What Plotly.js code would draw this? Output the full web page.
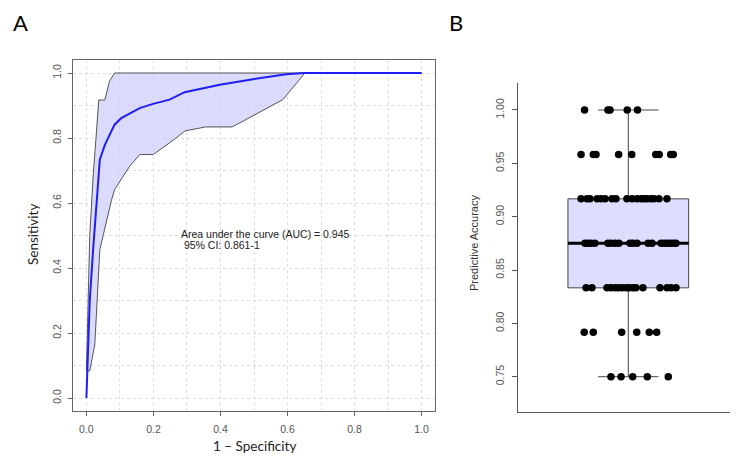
<!DOCTYPE html>
<html>
<head>
<meta charset="utf-8">
<script src="https://cdn.plot.ly/plotly-3.0.1.min.js"></script>
<style>html,body{margin:0;padding:0;background:#fff;}#chart{width:743px;height:462px;}</style>
</head>
<body>
<div id="chart"></div>
<script>
// ---------- Panel A: ROC curve ----------
const rocFPR = [0, 0.003, 0.01, 0.02, 0.03, 0.04, 0.055, 0.084, 0.104, 0.159, 0.199, 0.248, 0.293, 0.398, 0.497, 0.596, 0.65, 1.0];
const rocTPR = [0, 0.097, 0.30, 0.456, 0.61, 0.733, 0.779, 0.841, 0.861, 0.892, 0.905, 0.918, 0.941, 0.964, 0.981, 0.996, 1.0, 1.0];

const ciUpperFPR = [0, 0.01, 0.02, 0.03, 0.037, 0.055, 0.069, 0.084, 1.0];
const ciUpperTPR = [0.083, 0.50, 0.68, 0.84, 0.917, 0.917, 0.975, 1.0, 1.0];

const ciLowerFPR = [0, 0.01, 0.025, 0.04, 0.075, 0.084, 0.129, 0.159, 0.199, 0.248, 0.295, 0.355, 0.435, 0.586, 0.652, 1.0];
const ciLowerTPR = [0.083, 0.083, 0.164, 0.456, 0.61, 0.641, 0.713, 0.749, 0.749, 0.785, 0.822, 0.834, 0.834, 0.918, 1.0, 1.0];

const aucText = "Area under the curve (AUC) = 0.945";
const ciText = "\u00a095% CI: 0.861-1";
const rocTicks = [0, 0.2, 0.4, 0.6, 0.8, 1.0];
const rocTickLabels = ["0.0", "0.2", "0.4", "0.6", "0.8", "1.0"];

// ---------- Panel B: predictive accuracy (strip + box) ----------
const accLevels = [1.000, 0.9583, 0.9167, 0.875, 0.8333, 0.7917, 0.750];
const jitterRows = [
  [-0.29, -0.135, -0.121, -0.007, 0.061],
  [-0.313, -0.232, -0.214, -0.064, 0.023, 0.182, 0.205, 0.281, 0.298],
  [-0.313, -0.274, -0.254, -0.207, -0.181, -0.154, -0.108, -0.082, -0.009, 0.025, 0.058, 0.084, 0.104, 0.124, 0.150, 0.170, 0.203, 0.256],
  [-0.287, -0.267, -0.247, -0.221, -0.135, -0.115, -0.088, -0.062, 0.011, 0.031, 0.058, 0.131, 0.157, 0.217, 0.237, 0.256, 0.276, 0.296, 0.316],
  [-0.280, -0.241, -0.141, -0.115, -0.088, -0.068, -0.042, -0.015, 0.005, 0.031, 0.051, 0.097, 0.210, 0.256, 0.283, 0.316],
  [-0.292, -0.232, -0.044, 0.056, 0.139, 0.188],
  [-0.115, -0.048, 0.029, 0.126, 0.265]
];
const accTicks = [0.75, 0.80, 0.85, 0.90, 0.95, 1.00];
const accTickLabels = ["0.75", "0.80", "0.85", "0.90", "0.95", "1.00"];

// ---------- build ----------
const BOX_POS = 1, BOX_W = 0.8;
const ptsX = [], ptsY = [];
accLevels.forEach((v, i) => jitterRows[i].forEach(j => { ptsX.push(BOX_POS + j); ptsY.push(v); }));
const sorted = ptsY.slice().sort((a, b) => a - b);
const n = sorted.length;
const median = n % 2 ? sorted[(n - 1) / 2] : (sorted[n / 2 - 1] + sorted[n / 2]) / 2;

const polyX = ciUpperFPR.concat(ciLowerFPR.slice().reverse());
const polyY = ciUpperTPR.concat(ciLowerTPR.slice().reverse());

const tickFont = {family: "Liberation Sans, Arial, sans-serif", size: 10.5, color: "#555"};

const data = [
  {type: "scatter", mode: "lines", x: polyX, y: polyY, fill: "toself",
   fillcolor: "rgba(204,204,252,0.7)", line: {color: "#555", width: 1},
   xaxis: "x", yaxis: "y", hoverinfo: "skip", showlegend: false},
  {type: "scatter", mode: "lines", x: rocFPR, y: rocTPR,
   line: {color: "#1f1ff5", width: 2}, xaxis: "x", yaxis: "y", showlegend: false},
  {type: "box", x0: BOX_POS, y: ptsY, width: BOX_W, boxpoints: false, whiskerwidth: 0.5,
   quartilemethod: "linear", fillcolor: "rgb(221,221,255)", line: {color: "#444", width: 1},
   xaxis: "x2", yaxis: "y2", hoverinfo: "skip", showlegend: false},
  {type: "scatter", mode: "lines", x: [BOX_POS - BOX_W / 2, BOX_POS + BOX_W / 2], y: [median, median],
   line: {color: "#000", width: 3}, xaxis: "x2", yaxis: "y2", hoverinfo: "skip", showlegend: false},
  {type: "scatter", mode: "markers", x: ptsX, y: ptsY,
   marker: {color: "#000", size: 7.5}, xaxis: "x2", yaxis: "y2", showlegend: false}
];

const gridMinor = {dtick: 0.1, tick0: 0, showgrid: true, griddash: "dot", gridcolor: "#dedede", gridwidth: 1, ticks: ""};

const layout = {
  width: 743, height: 462,
  margin: {l: 0, r: 0, t: 0, b: 0},
  paper_bgcolor: "#fff", plot_bgcolor: "#fff",
  showlegend: false,
  xaxis: {
    domain: [73 / 743, 435 / 743], range: [-0.04, 1.04], anchor: "y",
    tickmode: "array", tickvals: rocTicks, ticktext: rocTickLabels,
    ticks: "outside", ticklen: 4, tickcolor: "#666", tickfont: tickFont, ticklabelstandoff: 4,
    showgrid: true, griddash: "dot", gridcolor: "#dedede", minor: gridMinor,
    showline: true, mirror: true, linecolor: "#666", linewidth: 1, zeroline: false
  },
  yaxis: {
    domain: [1 - 411 / 462, 1 - 60 / 462], range: [-0.04, 1.04], anchor: "x",
    tickmode: "array", tickvals: rocTicks, ticktext: rocTickLabels, tickangle: -90,
    ticks: "outside", ticklen: 4, tickcolor: "#666", tickfont: tickFont, ticklabelstandoff: 3,
    showgrid: true, griddash: "dot", gridcolor: "#dedede", minor: gridMinor,
    showline: true, mirror: true, linecolor: "#666", linewidth: 1, zeroline: false
  },
  xaxis2: {
    domain: [518.3 / 743, 730 / 743], range: [0.271, 1.674], anchor: "y2",
    showticklabels: false, ticks: "", showgrid: false, zeroline: false,
    showline: true, linecolor: "#555", linewidth: 1
  },
  yaxis2: {
    domain: [1 - 411.7 / 462, 1 - 83 / 462], range: [0.7172, 1.0253], anchor: "x2",
    tickmode: "array", tickvals: accTicks, ticktext: accTickLabels, tickangle: -90,
    ticks: "outside", ticklen: 5, tickcolor: "#555", tickfont: tickFont, ticklabelstandoff: 4,
    showgrid: false, zeroline: false, showline: true, linecolor: "#555", linewidth: 1
  },
  annotations: [
    {xref: "paper", yref: "paper", x: 20 / 743, y: 1 - 22 / 462, text: "A", showarrow: false,
     xanchor: "center", yanchor: "middle", font: {family: "Lato, sans-serif", size: 22, color: "#000"}},
    {xref: "paper", yref: "paper", x: 456 / 743, y: 1 - 22 / 462, text: "B", showarrow: false,
     xanchor: "center", yanchor: "middle", font: {family: "Lato, sans-serif", size: 22, color: "#000"}},
    {xref: "paper", yref: "paper", x: 255 / 743, y: 1 - 446 / 462, text: "1 \u2013 Specificity", showarrow: false,
     xanchor: "center", yanchor: "middle", font: {family: "Lato, sans-serif", size: 13.5, color: "#222"}},
    {xref: "paper", yref: "paper", x: 33 / 743, y: 1 - 235 / 462, text: "Sensitivity", showarrow: false, textangle: -90,
     xanchor: "center", yanchor: "middle", font: {family: "Lato, sans-serif", size: 13.5, color: "#222"}},
    {xref: "paper", yref: "paper", x: 474 / 743, y: 1 - 243 / 462, text: "Predictive Accuracy", showarrow: false, textangle: -90,
     xanchor: "center", yanchor: "middle", font: {family: "Liberation Sans, Arial, sans-serif", size: 11, color: "#333"}},
    {xref: "x", yref: "y", x: 0.275, y: 0.506, text: aucText, showarrow: false,
     xanchor: "left", yanchor: "middle", font: {family: "Liberation Sans, Arial, sans-serif", size: 10.5, color: "#222"}},
    {xref: "x", yref: "y", x: 0.275, y: 0.470, text: ciText, showarrow: false,
     xanchor: "left", yanchor: "middle", font: {family: "Liberation Sans, Arial, sans-serif", size: 10.5, color: "#222"}}
  ]
};

Plotly.newPlot("chart", data, layout, {displayModeBar: false, staticPlot: true});
</script>
</body>
</html>
